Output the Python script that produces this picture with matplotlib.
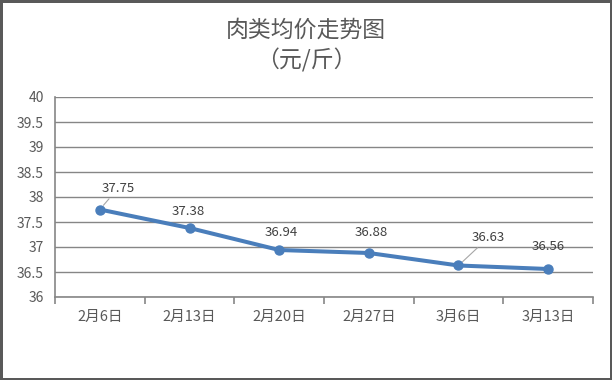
import matplotlib.pyplot as plt
from matplotlib.patches import Rectangle

plt.rcParams['font.family'] = ['Noto Sans CJK SC', 'DejaVu Sans']

dates = ['2月6日', '2月13日', '2月20日', '2月27日', '3月6日', '3月13日']
prices = [37.75, 37.38, 36.94, 36.88, 36.63, 36.56]
# label offsets in pixels (dx, dy), and whether a leader line is drawn
label_offsets = [(18, 21), (-1, 16), (2, 17), (2, 20), (30, 28), (0, 23)]
leaders = [True, False, False, False, True, False]

text_col = '#595959'
grid_col = '#868686'
line_col = '#4A7EBB'

fig = plt.figure(figsize=(6.12, 3.8), dpi=100)
ax = fig.add_axes([55 / 612, 83 / 380, 538 / 612, 200 / 380])

x = list(range(len(dates)))
ax.plot(x, prices, color=line_col, lw=2.9, marker='o', ms=6.5, zorder=3)

for xi, v, (dx, dy), lead in zip(x, prices, label_offsets, leaders):
    ap = dict(arrowstyle='-', color='#A6A6A6', lw=0.8, shrinkA=1, shrinkB=4) if lead else None
    ax.annotate(f'{v:.2f}', (xi, v), xytext=(dx, dy), textcoords='offset pixels',
                ha='center', va='center', fontsize=9.5, color='#404040',
                arrowprops=ap, zorder=4)

ax.set_xlim(-0.5, len(dates) - 0.5)
ax.set_ylim(36, 40)
ax.set_yticks([36, 36.5, 37, 37.5, 38, 38.5, 39, 39.5, 40])
ax.set_yticklabels(['36', '36.5', '37', '37.5', '38', '38.5', '39', '39.5', '40'])
ax.set_xticks(x)
ax.set_xticklabels(dates)
ax.set_xticks([i - 0.5 for i in range(len(dates) + 1)], minor=True)
ax.tick_params(axis='x', which='major', length=0, pad=9, labelsize=10.5, labelcolor=text_col)
ax.tick_params(axis='x', which='minor', length=5, width=1.2, color=grid_col, direction='out')
ax.tick_params(axis='y', length=0, pad=8, labelsize=10, labelcolor=text_col)
ax.grid(axis='y', color=grid_col, lw=1)
ax.set_axisbelow(True)
for s in ['top', 'right']:
    ax.spines[s].set_visible(False)
for s in ['left', 'bottom']:
    ax.spines[s].set_color(grid_col)
    ax.spines[s].set_linewidth(1.2)

fig.text(0.5, 1 - 30 / 380, '肉类均价走势图', ha='center', va='center', fontsize=16.5, color=text_col)
fig.text(0.5, 1 - 60 / 380, '（元/斤）', ha='center', va='center', fontsize=16.5, color=text_col)

fig.patches.append(Rectangle((0, 0), 1, 1, transform=fig.transFigure, fill=False,
                             edgecolor='#595959', lw=3.6))

fig.savefig('out.png', dpi=100)
